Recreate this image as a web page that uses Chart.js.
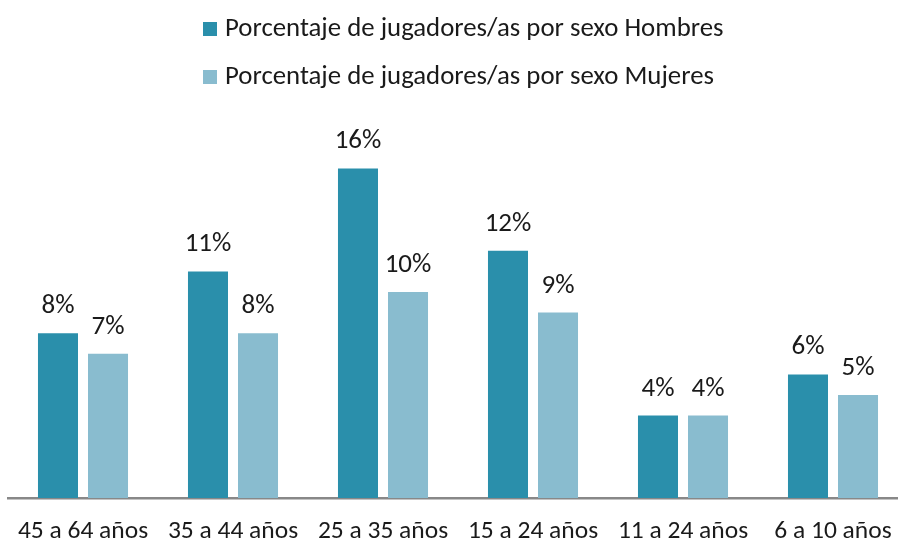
<!DOCTYPE html>
<html>
<head>
<meta charset="utf-8">
<title>Jugadores por sexo y edad</title>
<script src="https://cdn.jsdelivr.net/npm/chart.js@4.4.1/dist/chart.umd.min.js"></script>
<style>
  html, body { margin: 0; padding: 0; background: #fff; overflow: hidden; }
  #wrap { width: 898px; height: 542px; overflow: hidden; }
  canvas { display: block; }
</style>
</head>
<body>
<!-- the plot runs slightly past the right edge, so the canvas is a bit wider than the frame -->
<div id="wrap"><canvas id="chart" width="910" height="542"></canvas></div>
<script>
const categories = ['45 a 64 años', '35 a 44 años', '25 a 35 años', '15 a 24 años', '11 a 24 años', '6 a 10 años'];
const hombres = [8, 11, 16, 12, 4, 6];
const mujeres = [7, 8, 10, 9, 4, 5];
const seriesLabels = [
  'Porcentaje de jugadores/as por sexo Hombres',
  'Porcentaje de jugadores/as por sexo Mujeres'
];
const seriesColors = ['#2a8fab', '#89bccf'];

const FONT = 'Carlito, Lato, sans-serif';
const TEXT_COLOR = '#1a1a1a';

// percentage labels above each bar
const valueLabels = {
  id: 'valueLabels',
  afterDatasetsDraw(chart) {
    const ctx = chart.ctx;
    ctx.save();
    ctx.font = '27px ' + FONT;
    ctx.fillStyle = TEXT_COLOR;
    ctx.textAlign = 'center';
    ctx.textBaseline = 'alphabetic';
    chart.data.datasets.forEach((ds, i) => {
      chart.getDatasetMeta(i).data.forEach((bar, j) => {
        ctx.fillText(ds.data[j] + '%', bar.x, bar.y - 20);
      });
    });
    ctx.restore();
  }
};

// category names under the axis line; drawn here so the
// plot width is not squeezed to fit the outer labels
const categoryLabels = {
  id: 'categoryLabels',
  afterDraw(chart) {
    const ctx = chart.ctx;
    const xScale = chart.scales.x;
    ctx.save();
    ctx.font = '25.5px ' + FONT;
    ctx.fillStyle = TEXT_COLOR;
    ctx.textAlign = 'center';
    ctx.textBaseline = 'middle';
    chart.data.labels.forEach((label, i) => {
      ctx.fillText(label, xScale.getPixelForValue(i), chart.chartArea.bottom + 34);
    });
    ctx.restore();
  }
};

// legend stacked on two left-aligned rows
const stackedLegend = {
  id: 'stackedLegend',
  afterDraw(chart) {
    const ctx = chart.ctx;
    ctx.save();
    ctx.font = '26.8px ' + FONT;
    ctx.textBaseline = 'middle';
    ctx.textAlign = 'left';
    chart.data.datasets.forEach((ds, i) => {
      const y = 22 + i * 48;
      ctx.fillStyle = ds.backgroundColor;
      ctx.fillRect(203, y, 14, 14);
      ctx.fillStyle = TEXT_COLOR;
      ctx.fillText(ds.label, 225, y + 7);
    });
    ctx.restore();
  }
};

new Chart(document.getElementById('chart'), {
  type: 'bar',
  data: {
    labels: categories,
    datasets: [
      { label: seriesLabels[0], data: hombres, backgroundColor: seriesColors[0] },
      { label: seriesLabels[1], data: mujeres, backgroundColor: seriesColors[1] }
    ]
  },
  options: {
    responsive: false,
    animation: false,
    devicePixelRatio: 1,
    categoryPercentage: 0.667,
    barPercentage: 0.8,
    layout: { padding: { top: 86, left: 8, right: 2, bottom: 44 } },
    plugins: {
      legend: { display: false },
      tooltip: { enabled: false }
    },
    scales: {
      x: {
        grid: { display: false, drawTicks: false },
        border: { display: true, color: '#888888', width: 2.5 },
        ticks: { display: false }
      },
      y: {
        display: false,
        min: 0,
        max: 20
      }
    }
  },
  plugins: [valueLabels, categoryLabels, stackedLegend]
});
</script>
</body>
</html>
